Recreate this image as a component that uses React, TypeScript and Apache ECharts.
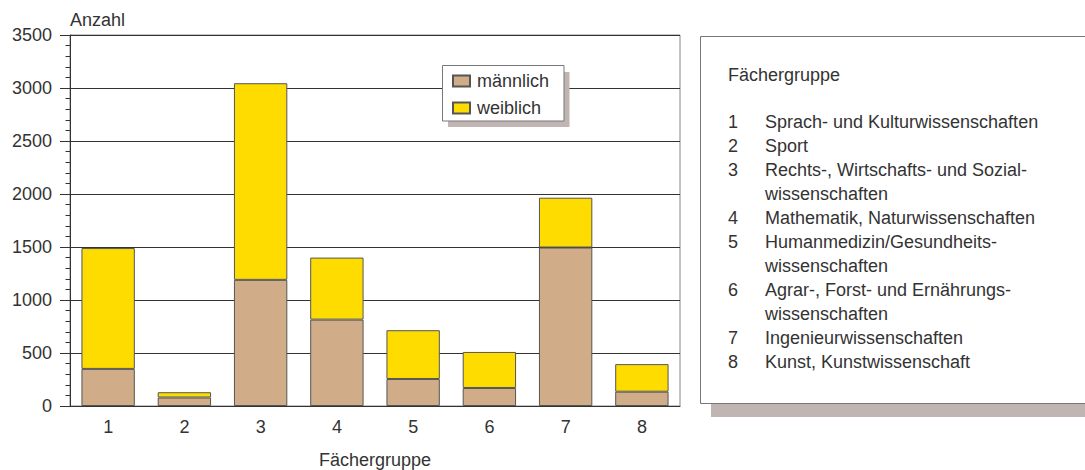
import React, { useEffect, useRef } from "react";
import * as echarts from "echarts";

const categories = ["1", "2", "3", "4", "5", "6", "7", "8"];
const maleValues = [350, 80, 1190, 815, 255, 170, 1495, 135];
const femaleValues = [1140, 50, 1855, 585, 460, 340, 470, 260];
const seriesNames = ["männlich", "weiblich"];
const yTicks = { min: 0, max: 3500, interval: 500 };
const boxTitle = "Fächergruppe";
const boxItems: string[][] = [
  ["1", "Sprach- und Kulturwissenschaften"],
  ["2", "Sport"],
  ["3", "Rechts-, Wirtschafts- und Sozial-", "wissenschaften"],
  ["4", "Mathematik, Naturwissenschaften"],
  ["5", "Humanmedizin/Gesundheits-", "wissenschaften"],
  ["6", "Agrar-, Forst- und Ernährungs-", "wissenschaften"],
  ["7", "Ingenieurwissenschaften"],
  ["8", "Kunst, Kunstwissenschaft"],
];

const FONT = "'Liberation Sans', Arial, sans-serif";
const TXT = "#333333";
const MALE = "#d0ac88";
const FEMALE = "#ffdc00";
const SHADOW = "#c0b5b2";

export default function App() {
  const ref = useRef<HTMLDivElement>(null);
  useEffect(() => {
    document.body.style.margin = "0";
    const chart = echarts.init(ref.current!, null, { renderer: "svg" });

    const graphics: any[] = [];
    // legend box + shadow
    graphics.push({ type: "rect", z: 10, shape: { x: 448, y: 72, width: 121.5, height: 55 }, style: { fill: SHADOW } });
    graphics.push({ type: "rect", z: 11, shape: { x: 442.5, y: 65.5, width: 121.5, height: 55.5 }, style: { fill: "#fff", stroke: "#777", lineWidth: 1 } });
    // right box + shadow
    graphics.push({ type: "rect", z: 10, shape: { x: 711, y: 50, width: 400, height: 367 }, style: { fill: SHADOW } });
    graphics.push({ type: "rect", z: 11, shape: { x: 700.5, y: 36.5, width: 400, height: 367 }, style: { fill: "#fff", stroke: "#777", lineWidth: 1 } });
    graphics.push({
      type: "text", z: 12, x: 728, y: 75,
      style: { text: boxTitle, font: `18px ${FONT}`, fill: TXT, verticalAlign: "middle" },
    });
    let line = 0;
    const firstCenter = 122;
    const lh = 24;
    boxItems.forEach((it) => {
      const yc = firstCenter + line * lh;
      graphics.push({
        type: "text", z: 12, x: 728, y: yc,
        style: { text: it[0], font: `18px ${FONT}`, fill: TXT, verticalAlign: "middle" },
      });
      it.slice(1).forEach((t, k) => {
        graphics.push({
          type: "text", z: 12, x: 765, y: yc + k * lh,
          style: { text: t, font: `18px ${FONT}`, fill: TXT, verticalAlign: "middle" },
        });
      });
      line += it.length - 1;
    });

    chart.setOption({
      animation: false,
      textStyle: { fontFamily: FONT },
      grid: {
        left: 70, right: 405, top: 35, bottom: 64,
        outerBoundsMode: "none",
        containLabel: false,
        show: true, borderColor: "#888", borderWidth: 1, backgroundColor: "transparent",
      },
      legend: {
        z: 20,
        orient: "vertical",
        left: 447, top: 67,
        itemWidth: 17, itemHeight: 11, itemGap: 9,
        icon: "rect",
        data: seriesNames,
        textStyle: { fontSize: 18, color: TXT, fontFamily: FONT, padding: [0, 0, 0, 2] },
      },
      xAxis: {
        type: "category",
        data: categories,
        name: "Fächergruppe",
        nameLocation: "middle",
        nameGap: 45,
        nameTextStyle: { fontSize: 18, color: TXT, fontFamily: FONT },
        axisLine: { lineStyle: { color: "#333", width: 1 } },
        axisTick: { show: false },
        axisLabel: { fontSize: 18, color: TXT, margin: 12, fontFamily: FONT },
      },
      yAxis: {
        type: "value",
        min: yTicks.min, max: yTicks.max, interval: yTicks.interval,
        name: "Anzahl",
        nameLocation: "end",
        nameGap: 15,
        nameTextStyle: { fontSize: 18, color: TXT, align: "left", verticalAlign: "middle", fontFamily: FONT },
        axisLine: { show: true, lineStyle: { color: "#333", width: 1 } },
        axisTick: { show: true, length: 10, lineStyle: { color: "#333" } },
        minorTick: { show: true, splitNumber: 5, length: 4.5, lineStyle: { color: "#333" } },
        splitLine: { show: true, lineStyle: { color: "#333", width: 1 } },
        axisLabel: { fontSize: 18, color: TXT, margin: 18, fontFamily: FONT, formatter: (v: number) => String(v) },
      },
      graphic: graphics,
      series: [
        {
          name: seriesNames[0], type: "bar", stack: "a", data: maleValues, barWidth: "70%",
          itemStyle: { color: MALE, borderColor: "#555", borderWidth: 1 },
        },
        {
          name: seriesNames[1], type: "bar", stack: "a", data: femaleValues, barWidth: "70%",
          itemStyle: { color: FEMALE, borderColor: "#555", borderWidth: 1 },
        },
      ],
    });
    return () => chart.dispose();
  }, []);
  return <div ref={ref} style={{ width: 1085, height: 470 }} />;
}
